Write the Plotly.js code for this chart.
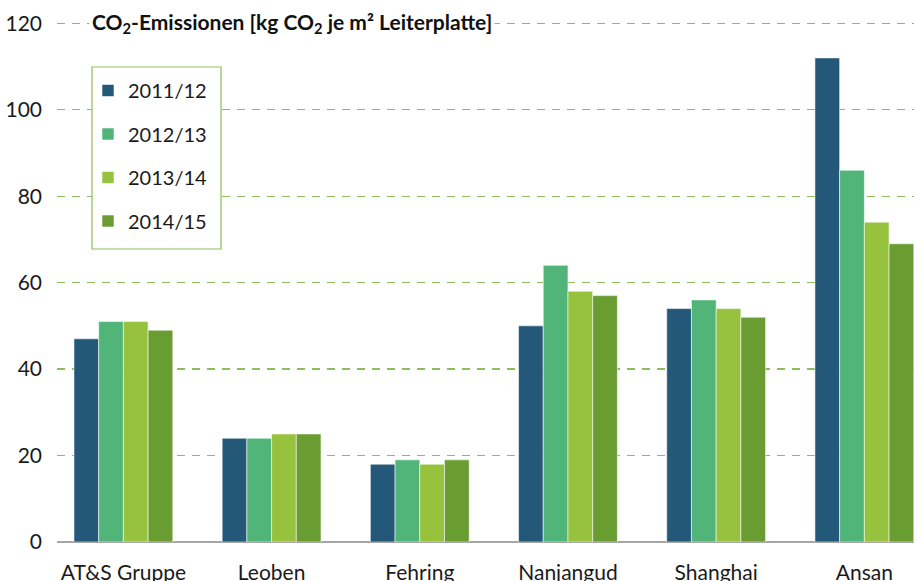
<!DOCTYPE html>
<html>
<head>
<meta charset="utf-8">
<script src="https://cdn.plot.ly/plotly-3.0.1.min.js"></script>
<style>html,body{margin:0;padding:0;background:#fff;}#chart{width:914px;height:581px;}</style>
</head>
<body>
<div id="chart"></div>
<script>
const categories = ["AT&S Gruppe", "Leoben", "Fehring", "Nanjangud", "Shanghai", "Ansan"];
const seriesNames = ["2011/12", "2012/13", "2013/14", "2014/15"];
const v2011 = [47, 24, 18, 50, 54, 112];
const v2012 = [51, 24, 19, 64, 56, 86];
const v2013 = [51, 25, 18, 58, 54, 74];
const v2014 = [49, 25, 19, 57, 52, 69];
const colors = ["#235878", "#51b479", "#96c23e", "#699d32"];
const yTicks = [0, 20, 40, 60, 80, 100, 120];
const titleText = "<b>CO<sub>2</sub>-Emissionen [kg CO<sub>2</sub> je m² Leiterplatte]</b>";

const allVals = [v2011, v2012, v2013, v2014];
const traces = allVals.map((vals, i) => ({
  type: "bar",
  name: seriesNames[i],
  x: categories,
  y: vals,
  legendgroup: "g" + i,
  marker: {color: colors[i], line: {color: "rgba(255,255,255,0.55)", width: 1}},
  hoverinfo: "x+y+name"
}));

const plotH = 581 - 22 - 39;
const legTop = 1 - (67 - 22) / plotH;
const legBot = 1 - (249 - 22) / plotH;

const layout = {
  width: 914, height: 581,
  margin: {l: 57, r: 0, t: 22, b: 39},
  paper_bgcolor: "#ffffff",
  plot_bgcolor: "#ffffff",
  font: {family: "Lato, 'Open Sans', sans-serif", color: "#1a1a1a", size: 21},
  barmode: "group",
  bargap: 0.333,
  bargroupgap: 0,
  showlegend: true,
  legend: {
    x: (88 - 57) / 857, y: 1 - (71 - 22) / plotH, xanchor: "left", yanchor: "top",
    borderwidth: 0,
    bgcolor: "rgba(0,0,0,0)",
    font: {size: 20, color: "#1a1a1a"},
    tracegroupgap: 14.5,
    itemclick: false
  },
  xaxis: {
    type: "category",
    range: [-0.448, 5.335],
    showgrid: false,
    showline: false,
    zeroline: false,
    ticks: "",
    ticklabelstandoff: 16,
    tickfont: {size: 21},
    fixedrange: true
  },
  yaxis: {
    range: [0, 120.3],
    tickvals: yTicks,
    ticktext: yTicks.map(String),
    showgrid: true,
    gridcolor: "#8fbc60",
    gridwidth: 1.4,
    griddash: "8px,7px",
    zeroline: true,
    zerolinecolor: "#a6a6a6",
    zerolinewidth: 1.5,
    showline: false,
    ticks: "",
    ticklabelstandoff: 14,
    tickfont: {size: 21},
    fixedrange: true
  },
  shapes: [{
    type: "rect", xref: "paper", yref: "paper",
    x0: (92 - 57) / 857, x1: (221 - 57) / 857,
    y0: legBot, y1: legTop,
    line: {color: "#8dbf5a", width: 1.2},
    fillcolor: "rgba(255,255,255,1)",
    layer: "above"
  }],
  annotations: [{
    text: titleText,
    xref: "paper", yref: "y",
    x: (89 - 57) / 857, y: 120,
    xanchor: "left", yanchor: "middle",
    showarrow: false,
    bgcolor: "#ffffff",
    borderpad: 2,
    font: {size: 21, color: "#111111", family: "Lato, 'Open Sans', sans-serif"}
  }]
};

Plotly.newPlot("chart", traces, layout, {displayModeBar: false, staticPlot: true});
</script>
</body>
</html>
